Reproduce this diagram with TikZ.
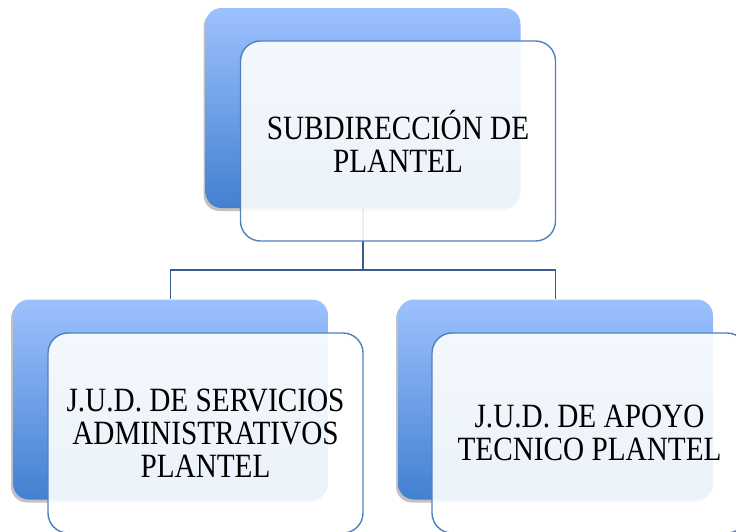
\documentclass[tikz,border=0pt]{standalone}
\usepackage{fontspec}
\setmainfont[FakeStretch=0.86]{Liberation Serif}
\usetikzlibrary{shadows}
\definecolor{backtop}{RGB}{157,193,255}
\definecolor{backbot}{RGB}{66,128,208}
\definecolor{frontline}{RGB}{79,129,189}
\definecolor{connline}{RGB}{56,93,138}
\tikzset{
  backbox/.style={rounded corners=16pt, minimum width=315pt, minimum height=200pt,
    top color=backtop, bottom color=backbot, draw=none, inner sep=0pt,
    drop shadow={shadow xshift=-2pt, shadow yshift=-3pt, opacity=0.35, fill=black!70}},
  frontbox/.style={rounded corners=20pt, minimum width=315pt, minimum height=200pt,
    draw=frontline, line width=1.4pt, fill=white, fill opacity=0.9, text opacity=1,
    align=center, inner sep=0pt, font=\fontsize{34}{33}\selectfont, text=black},
  conn/.style={draw=connline, line width=1.8pt}
}
\begin{document}
\begin{tikzpicture}[x=1pt,y=-1pt]
\useasboundingbox (0,0) rectangle (736,531);
% back boxes
\node[backbox] (tb) at (363,108) {};
\node[backbox] (lb) at (170.5,399.5) {};
\node[backbox] (rb) at (555.5,399.5) {};
% connectors
\coordinate (mid) at (363,270);
\draw[conn] (tb.south) -- (mid) -| (lb.north);
\draw[conn] (mid) -| (rb.north);
% front boxes
\node[frontbox] (tf) at (398,141) {SUBDIRECCIÓN DE\\PLANTEL};
\node[frontbox] (lf) at (205.5,433) {J.U.D. DE SERVICIOS\\ADMINISTRATIVOS\\PLANTEL};
\node[frontbox] (rf) at (589.5,433) {J.U.D. DE APOYO\\TECNICO PLANTEL};
\end{tikzpicture}
\end{document}
